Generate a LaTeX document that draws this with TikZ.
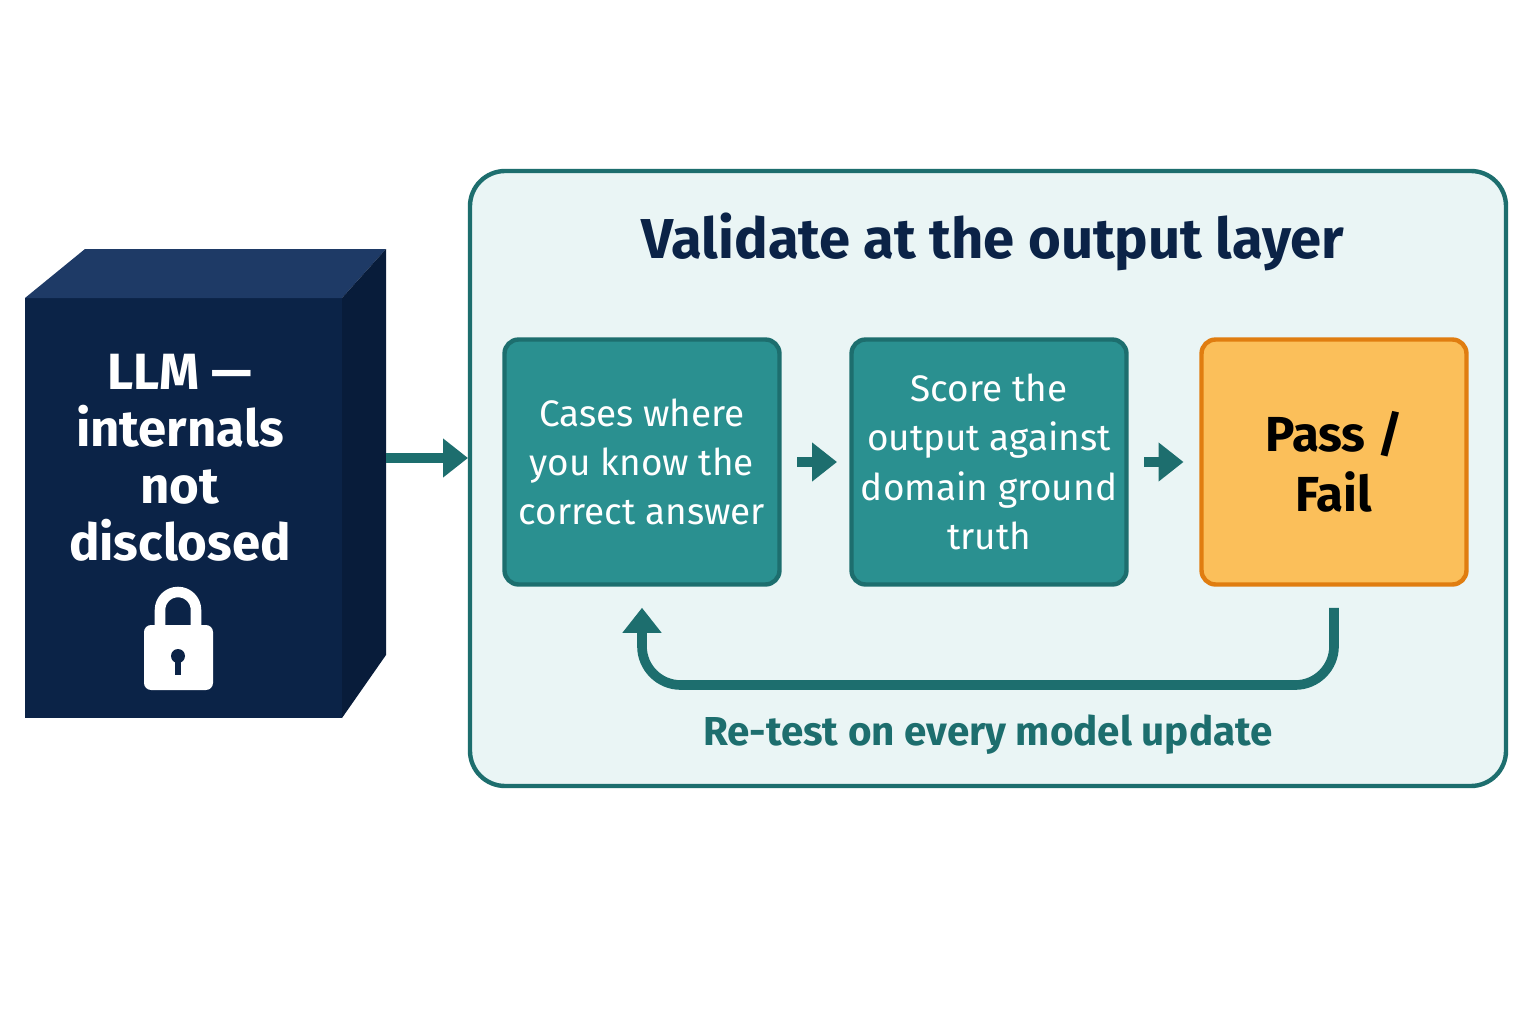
\documentclass[tikz,border=0pt]{standalone}
\usepackage{fontspec}
\setmainfont{Fira Sans}
\usetikzlibrary{calc,positioning,arrows.meta}
\tikzset{>=stealth}
\definecolor{navy}{HTML}{0B2347}
\definecolor{navytop}{HTML}{1E3A66}
\definecolor{navyside}{HTML}{081C3A}
\definecolor{tealline}{HTML}{1D6E6E}
\definecolor{tealfill}{HTML}{2A9090}
\definecolor{panelfill}{HTML}{EAF5F5}
\definecolor{passfill}{HTML}{FBBF5A}
\definecolor{passline}{HTML}{E07D10}
\tikzset{
  stagebox/.style={draw=tealline, fill=tealfill, line width=2.5pt, rounded corners=8pt,
    minimum width=5.5cm, minimum height=4.9cm, align=center,
    text=white, font=\fontsize{21}{28}\selectfont},
  flow/.style={-{Triangle[length=0.5cm,width=0.75cm]}, line width=5.5pt, draw=tealline}
}
\begin{document}
\begin{tikzpicture}[x=0.02cm,y=-0.02cm]

            % Canvas
            \useasboundingbox[fill=white] (0,0) rectangle (1536,1024);

            % Black box model
            \fill[navy] (25,298) rectangle (342,718);
            \fill[navytop] (25,298) -- (85,249) -- (386,249) -- (342,298) -- cycle;
            \fill[navyside] (342,298) -- (386,249) -- (386,655) -- (342,718) -- cycle;
            \node[text=white, align=center, font=\fontsize{29}{32.5}\selectfont\bfseries] (llm) at (180,458)
              {LLM ---\\ internals\\ not\\ disclosed};

            % Lock
            \draw[white, line width=6pt] (160,628) -- (160,610) arc[start angle=180, end angle=360, radius=18] -- (196,628);
            \fill[white, rounded corners=4pt] (144,625) rectangle (213,690);
            \fill[navy] (178,656) circle (7);
            \fill[navy] (175,656) rectangle (181,675);

            % Validation panel
            \draw[tealline, line width=2.5pt, fill=panelfill, rounded corners=20pt] (470,171) rectangle (1506,786);
            \node[text=navy, font=\fontsize{32}{32}\selectfont\bfseries] (title) at (993,242) {Validate at the output layer};
            \coordinate (panelin) at (468,458);
            \coordinate (boxout) at (386,458);

            % Steps
            \node[stagebox] (cases) at (642,462) {Cases where\\ you know the\\ correct answer};
            \node[stagebox] (score) at (989,462) {Score the\\ output against\\ domain ground\\ truth};
            \node[stagebox, fill=passfill, draw=passline, text=black, minimum width=5.3cm,
              font=\fontsize{28}{34}\selectfont\bfseries] (pass) at (1334,462) {Pass /\\ Fail};

            % Arrows
            \draw[flow] (boxout) -- (panelin);
            \draw[flow] ([xshift=9]cases.east) -- ([xshift=-7]score.west);
            \draw[flow] ([xshift=9]score.east) -- ([xshift=-9]pass.west);
            \draw[flow, rounded corners=22pt] ([yshift=-12]pass.south) -- (1334,685) -- (642,685) -- ([yshift=-12]cases.south);

            % Loop label
            \node[text=tealline, font=\fontsize{23}{23}\selectfont\bfseries] (retest) at (988,735) {Re-test on every model update};

\end{tikzpicture}
\end{document}
